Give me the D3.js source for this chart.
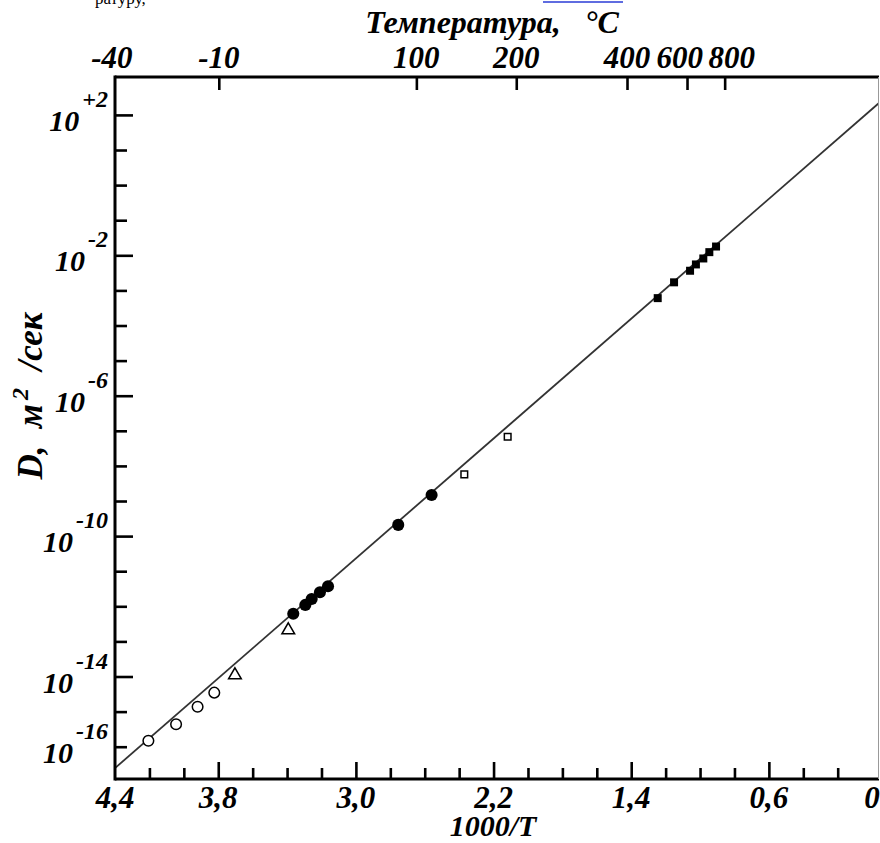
<!DOCTYPE html>
<html>
<head>
<meta charset="utf-8">
<script src="https://d3js.org/d3.v7.min.js"></script>
<style>
  body { margin: 0; background: #fff; }
  svg text { font-family: "Liberation Serif", "Times New Roman", serif; font-weight: bold; font-style: italic; fill: #000; }
</style>
</head>
<body>
<svg width="880" height="843"></svg>
<script>
// values: x = 1000/T, y = log10 D (m^2/s)
var openCircleX = [4.206, 4.045, 3.920, 3.823];
var openCircleLogD = [-15.83, -15.36, -14.86, -14.46];

var triangleX = [3.703, 3.393];
var triangleLogD = [-13.96, -12.68];

var filledCircleX = [3.364, 3.294, 3.257, 3.209, 3.162, 2.754, 2.560];
var filledCircleLogD = [-12.21, -11.96, -11.79, -11.60, -11.43, -9.68, -8.83];

var openSquareX = [2.370, 2.118];
var openSquareLogD = [-8.24, -7.17];

var filledSquareX = [1.246, 1.151, 1.058, 1.024, 0.981, 0.946, 0.907];
var filledSquareLogD = [-3.22, -2.77, -2.44, -2.26, -2.09, -1.91, -1.75];

// fitted straight line (end points)
var fitX = [4.4, -0.04];
var fitLogD = [-16.61, 2.34];

// axis ticks
var xMajor = [3.8, 3.0, 2.2, 1.4, 0.6];
var xMinor = [4.2, 4.0, 3.6, 3.4, 3.2, 2.8, 2.6, 2.4, 2.0, 1.8, 1.6, 1.2, 1.0, 0.8, 0.4, 0.2];
var xLabels = [4.4, 3.8, 3.0, 2.2, 1.4, 0.6, 0];

var yMajorExp = [2, -2, -6, -10, -14];
var yMinorExp = [1, 0, -1, -3, -4, -5, -7, -8, -9, -11, -12, -13, -15, -16];
var yLabelExp = [2, -2, -6, -10, -14, -16];

var topTickTemps = [-10, 100, 200, 400, 600, 800];
var topLabelTemps = [-40, -10, 100, 200, 400, 600, 800];

var svg = d3.select("svg");

var x = d3.scaleLinear().domain([4.4, -0.04]).range([115, 879]);
// the temperature scale on top is drawn slightly wider than the bottom one
var xTop = d3.scaleLinear().domain([4.4, 0]).range([113, 889]);
var y = d3.scaleLog().domain([Math.pow(10, -16.92), Math.pow(10, 3.08)]).range([779, 77]);

function p10(e) { return Math.pow(10, e); }
function invT(t) { return 1000 / (t + 273.15); }
function commaFmt(v) { return v === 0 ? "0" : v.toFixed(1).replace(".", ","); }

var plotLeft = x.range()[0], plotRight = x.range()[1];
var plotBottom = y.range()[0], plotTop = y.range()[1];

// remnant of the page above the figure
svg.append("text").attr("x", 95).attr("y", 4)
  .style("font-style", "normal").style("font-weight", "normal").style("font-size", "17px")
  .text("ратуру,");
svg.append("line").attr("x1", 543).attr("x2", 623).attr("y1", 2).attr("y2", 2)
  .attr("stroke", "#2a3bd6").attr("stroke-width", 1.5);

// clip
svg.append("clipPath").attr("id", "plot")
  .append("rect").attr("x", plotLeft).attr("y", plotTop)
  .attr("width", plotRight - plotLeft).attr("height", plotBottom - plotTop);

// fit line
var line = d3.line()
  .x(function (d) { return x(d[0]); })
  .y(function (d) { return y(p10(d[1])); });
svg.append("path")
  .datum(fitX.map(function (v, i) { return [v, fitLogD[i]]; }))
  .attr("clip-path", "url(#plot)")
  .attr("d", line)
  .attr("fill", "none").attr("stroke", "#333").attr("stroke-width", 1.8);

// ticks
function styleTicks(g, w) {
  g.select(".domain").remove();
  g.selectAll(".tick line").attr("stroke", "#000").attr("stroke-width", w);
  g.selectAll(".tick text").remove();
}
svg.append("g").attr("transform", "translate(0," + plotBottom + ")")
  .call(d3.axisTop(x).tickValues(xMajor).tickSize(17).tickFormat(""))
  .call(styleTicks, 2.6);
svg.append("g").attr("transform", "translate(0," + plotBottom + ")")
  .call(d3.axisTop(x).tickValues(xMinor).tickSize(11).tickFormat(""))
  .call(styleTicks, 2.6);
svg.append("g").attr("transform", "translate(" + plotLeft + ",0)")
  .call(d3.axisRight(y).tickValues(yMajorExp.map(p10)).tickSize(18).tickFormat(""))
  .call(styleTicks, 2.6);
svg.append("g").attr("transform", "translate(" + plotLeft + ",0)")
  .call(d3.axisRight(y).tickValues(yMinorExp.map(p10)).tickSize(12).tickFormat(""))
  .call(styleTicks, 2.6);

// top temperature ticks
svg.append("g").attr("transform", "translate(0," + plotTop + ")")
  .call(d3.axisBottom(xTop).tickValues(topTickTemps.map(invT)).tickSize(13).tickFormat(""))
  .call(styleTicks, 2.6);

// frame
svg.append("line").attr("x1", plotLeft).attr("x2", plotLeft).attr("y1", plotTop - 1.5).attr("y2", plotBottom + 1.5)
  .attr("stroke", "#000").attr("stroke-width", 3);
svg.append("line").attr("x1", plotLeft).attr("x2", plotRight).attr("y1", plotBottom).attr("y2", plotBottom)
  .attr("stroke", "#000").attr("stroke-width", 3);
svg.append("line").attr("x1", plotLeft).attr("x2", plotRight).attr("y1", plotTop).attr("y2", plotTop)
  .attr("stroke", "#000").attr("stroke-width", 3);
svg.append("line").attr("x1", plotRight - 0.5).attr("x2", plotRight - 0.5).attr("y1", plotTop).attr("y2", plotBottom)
  .attr("stroke", "#999").attr("stroke-width", 1);

// markers
function pts(xs, ys) { return xs.map(function (v, i) { return [v, ys[i]]; }); }
function drawSymbols(data, type, size, fill, stroke) {
  svg.append("g").selectAll("path").data(data).enter().append("path")
    .attr("transform", function (d) { return "translate(" + x(d[0]) + "," + y(p10(d[1])) + ")"; })
    .attr("d", d3.symbol().type(type).size(size))
    .attr("fill", fill).attr("stroke", stroke).attr("stroke-width", 1.5);
}
drawSymbols(pts(openCircleX, openCircleLogD), d3.symbolCircle, 88, "#fff", "#000");
drawSymbols(pts(triangleX, triangleLogD), d3.symbolTriangle, 70, "#fff", "#000");
drawSymbols(pts(filledCircleX, filledCircleLogD), d3.symbolCircle, 115, "#000", "none");
drawSymbols(pts(openSquareX, openSquareLogD), d3.symbolSquare, 44, "#fff", "#000");
drawSymbols(pts(filledSquareX, filledSquareLogD), d3.symbolSquare, 64, "#000", "none");

// x labels
svg.append("g").selectAll("text").data(xLabels).enter().append("text")
  .attr("x", function (d) { return x(d); })
  .attr("y", 808)
  .attr("text-anchor", "middle")
  .style("font-size", "31px")
  .text(commaFmt);
svg.append("text").attr("x", 493).attr("y", 836).attr("text-anchor", "middle")
  .style("font-size", "30px").text("1000/T");

// y labels
var yl = svg.append("g").selectAll("text").data(yLabelExp).enter().append("text")
  .attr("x", 108)
  .attr("y", function (d) { return y(p10(d)) + 16; })
  .attr("text-anchor", "end")
  .style("font-size", "30px");
yl.append("tspan").text("10");
yl.append("tspan").attr("dy", -24).attr("dx", 3).style("font-size", "24px")
  .text(function (d) { return d > 0 ? "+" + d : "-" + Math.abs(d); });

svg.append("text")
  .attr("transform", "translate(42,396) rotate(-90)")
  .attr("text-anchor", "middle")
  .attr("xml:space", "preserve").style("white-space", "pre")
  .style("font-size", "35px")
  .call(function (t) {
    t.append("tspan").text("D,  м");
    t.append("tspan").attr("dy", -14).attr("dx", 4).style("font-size", "24px").text("2");
    t.append("tspan").attr("dy", 14).text("  /сек");
  });

// top temperature labels, spread apart where they would collide
var topLab = topLabelTemps.map(function (t) {
  var px = xTop(invT(t));
  return { t: t, px: px, end: px < plotLeft + 25 };
});
for (var it = 0; it < 20; it++) {
  for (var i = 1; i < topLab.length; i++) {
    var a = topLab[i - 1], b = topLab[i];
    if (a.end) continue;
    var gap = b.px - a.px, need = 52;
    if (gap < need) { a.px -= (need - gap) / 2; b.px += (need - gap) / 2; }
  }
}
svg.append("g").selectAll("text").data(topLab).enter().append("text")
  .attr("x", function (d) { return d.px; })
  .attr("y", 68)
  .attr("text-anchor", function (d) { return d.end ? "end" : "middle"; })
  .style("font-size", "31px")
  .text(function (d) { return d.t; });
svg.append("text").attr("x", 492).attr("y", 33).attr("text-anchor", "middle")
  .attr("xml:space", "preserve").style("white-space", "pre")
  .style("font-size", "32px").text("Температура,   °C");
</script>
</body>
</html>
